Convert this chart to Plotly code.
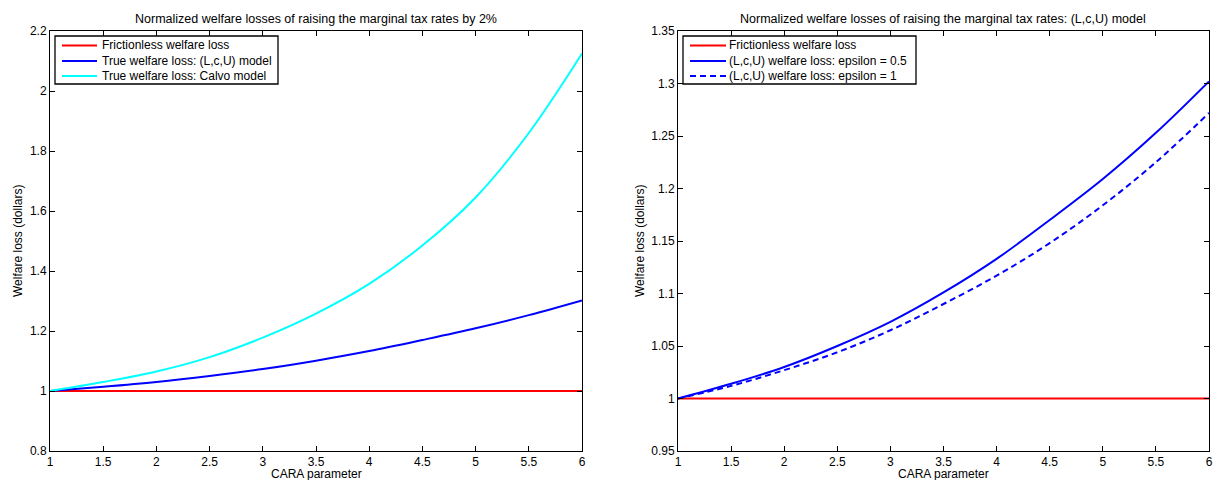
import plotly.graph_objects as go

W, H = 1214, 480

# Data
cara = [1.0, 1.5, 2.0, 2.5, 3.0, 3.5, 4.0, 4.5, 5.0, 5.5, 6.0]
frictionless = [1.0] * len(cara)
lcu_eps05 = [1.000, 1.014, 1.030, 1.050, 1.073, 1.101, 1.133, 1.170, 1.209, 1.253, 1.302]
lcu_eps1 = [1.000, 1.012, 1.027, 1.044, 1.065, 1.090, 1.117, 1.148, 1.184, 1.225, 1.272]
calvo = [1.000, 1.030, 1.065, 1.113, 1.178, 1.258, 1.357, 1.485, 1.645, 1.860, 2.125]

title_left = "Normalized welfare losses of raising the marginal tax rates by 2%"
title_right = "Normalized welfare losses of raising the marginal tax rates: (L,c,U) model"
xlabel = "CARA parameter"
ylabel = "Welfare loss (dollars)"

RED, BLUE, CYAN = "#FF0000", "#0000FF", "#00FFFF"
DASH = "6px,4px"
FONT = "Liberation Sans, Arial, Helvetica, sans-serif"
FS = 12

def px_x(p):
    return p / W

def px_y(p):
    return 1 - p / H

fig = go.Figure()

left_series = [
    ("Frictionless welfare loss", frictionless, RED, "solid"),
    ("True welfare loss: (L,c,U) model", lcu_eps05, BLUE, "solid"),
    ("True welfare loss: Calvo model", calvo, CYAN, "solid"),
]
right_series = [
    ("Frictionless welfare loss", frictionless, RED, "solid"),
    ("(L,c,U) welfare loss: epsilon = 0.5", lcu_eps05, BLUE, "solid"),
    ("(L,c,U) welfare loss: epsilon = 1", lcu_eps1, BLUE, DASH),
]

for name, ys, col, dash in left_series:
    fig.add_trace(go.Scatter(x=cara, y=ys, mode="lines", name=name,
                             line=dict(color=col, width=2, shape="spline", dash=dash),
                             xaxis="x", yaxis="y", showlegend=False))
for name, ys, col, dash in right_series:
    fig.add_trace(go.Scatter(x=cara, y=ys, mode="lines", name=name,
                             line=dict(color=col, width=2, shape="spline", dash=dash),
                             xaxis="x2", yaxis="y2", showlegend=False))

ydom = [px_y(451), px_y(31)]
axis_common = dict(showline=True, linecolor="black", linewidth=1, mirror="ticks", ticks="inside",
                   ticklen=5, tickcolor="black", showgrid=False, zeroline=False, automargin=False,
                   tickfont=dict(family=FONT, size=FS, color="black"))

fig.update_layout(
    template="none",
    width=W, height=H,
    margin=dict(l=0, r=0, t=0, b=0, autoexpand=False),
    paper_bgcolor="white", plot_bgcolor="white",
    font=dict(family=FONT, size=FS, color="black"),
    xaxis=dict(domain=[px_x(50), px_x(582)], range=[1, 6], dtick=0.5, tick0=1, anchor="y", **axis_common),
    yaxis=dict(domain=ydom, range=[0.8, 2.2], dtick=0.2, tick0=0.8, anchor="x", **axis_common),
    xaxis2=dict(domain=[px_x(678), px_x(1209)], range=[1, 6], dtick=0.5, tick0=1, anchor="y2", **axis_common),
    yaxis2=dict(domain=ydom, range=[0.95, 1.35], dtick=0.05, tick0=0.95, anchor="x2", **axis_common),
    showlegend=False,
)

# Legend boxes (drawn like MATLAB legends)
def add_legend(series, box, sample_x0, sample_x1, text_x, rows_y):
    x0, y0, x1, y1 = box
    fig.add_shape(type="rect", xref="paper", yref="paper",
                  x0=px_x(x0), x1=px_x(x1), y0=px_y(y1), y1=px_y(y0),
                  line=dict(color="black", width=1.3), fillcolor="white", layer="above")
    for (name, _, col, dash), ry in zip(series, rows_y):
        fig.add_shape(type="line", xref="paper", yref="paper",
                      x0=px_x(sample_x0), x1=px_x(sample_x1), y0=px_y(ry), y1=px_y(ry),
                      line=dict(color=col, width=2, dash=dash), layer="above")
        fig.add_annotation(xref="paper", yref="paper", x=px_x(text_x), y=px_y(ry),
                           xanchor="left", yanchor="middle", showarrow=False, text=name,
                           font=dict(family=FONT, size=FS, color="black"))

rows = [45.5, 61, 76]
add_legend(left_series, (55, 36, 278, 84), 62, 97, 100, rows)
add_legend(right_series, (683, 36, 916, 84), 690, 726, 727, rows)

annots = [
    dict(text=title_left, x=px_x(316), y=px_y(19), xanchor="center", yanchor="middle", size=12.5),
    dict(text=title_right, x=px_x(943), y=px_y(19), xanchor="center", yanchor="middle", size=12.5),
    dict(text=xlabel, x=px_x(316), y=px_y(473.5), xanchor="center", yanchor="middle", size=FS),
    dict(text=xlabel, x=px_x(943), y=px_y(473.5), xanchor="center", yanchor="middle", size=FS),
    dict(text=ylabel, x=px_x(18), y=px_y(241), xanchor="center", yanchor="middle", textangle=-90, size=FS),
    dict(text=ylabel, x=px_x(640), y=px_y(241), xanchor="center", yanchor="middle", textangle=-90, size=FS),
]
for a in annots:
    size = a.pop("size")
    fig.add_annotation(xref="paper", yref="paper", showarrow=False,
                       font=dict(family=FONT, size=size, color="black"), **a)

fig.write_html("out.html", config={"displayModeBar": False},
               post_script="document.body.style.margin='0';document.body.style.overflow='hidden';")
